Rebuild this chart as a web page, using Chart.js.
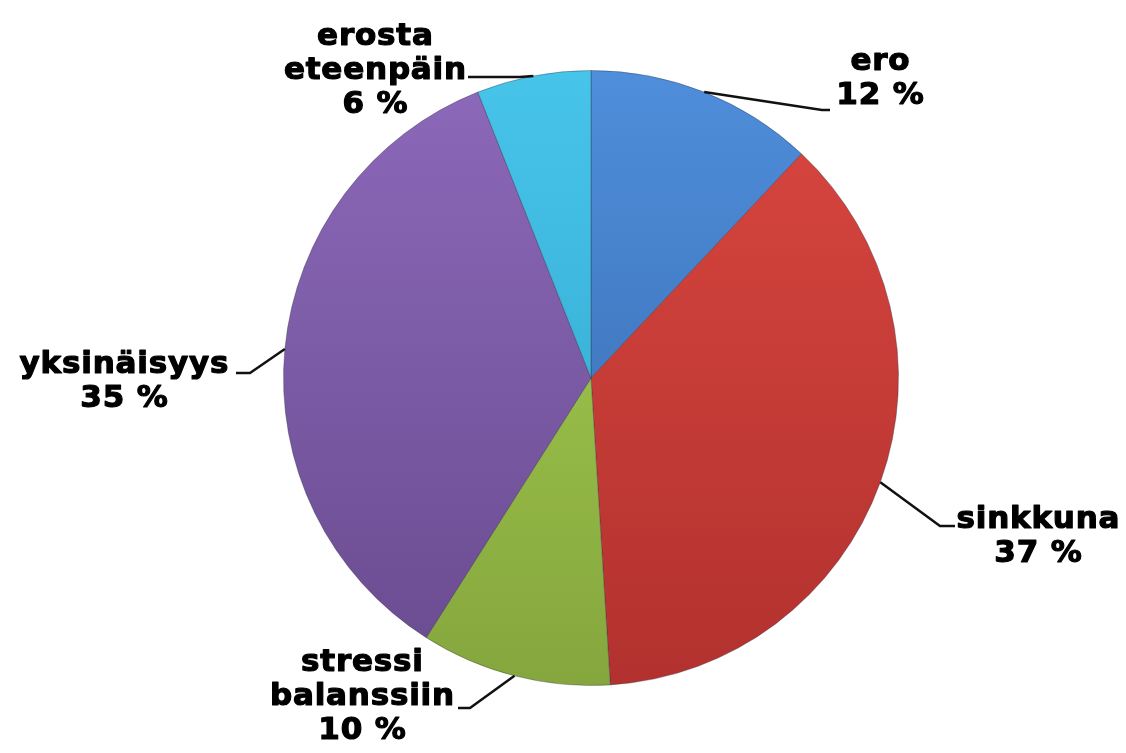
<!DOCTYPE html>
<html>
<head>
<meta charset="utf-8">
<script src="https://cdn.jsdelivr.net/npm/chart.js@4"></script>
<style>
html,body{margin:0;padding:0;background:#fff;}
#wrap{width:1126px;height:753px;position:relative;}
</style>
</head>
<body>
<div id="wrap"><canvas id="c" width="1126" height="753"></canvas></div>
<script>
const categories = ["ero", "sinkkuna", "stressi balanssiin", "yksinäisyys", "erosta eteenpäin"];
const labelLines = [["ero"], ["sinkkuna"], ["stressi", "balanssiin"], ["yksinäisyys"], ["erosta", "eteenpäin"]];
const values = [12, 37, 10, 35, 6];
const percentLabels = ["12 %", "37 %", "10 %", "35 %", "6 %"];

const colorTop = ["#4f8edb", "#da4740", "#a9d254", "#8c69ba", "#47c4ea"];
const colorBottom = ["#3566aa", "#b2312e", "#85a63d", "#694b8f", "#2fa3c9"];

// label layout: text centre x, first line y, elbow point, line end
const labelLayout = [
  {tx: 880, ty: 62, elbow: [822, 110], end: [830, 110]},
  {tx: 1038, ty: 520, elbow: [940, 526], end: [955, 526]},
  {tx: 362, ty: 663, elbow: [470, 708], end: [458, 708]},
  {tx: 124, ty: 365, elbow: [250, 373], end: [236, 373]},
  {tx: 375, ty: 37, elbow: [520, 77], end: [468, 77]}
];

const labelPlugin = {
  id: 'labelPlugin',
  afterDatasetsDraw(chart) {
    const ctx = chart.ctx;
    const meta = chart.getDatasetMeta(0);
    ctx.save();
    meta.data.forEach((arc, i) => {
      const p = arc.getProps(['x','y','startAngle','endAngle','outerRadius'], true);
      const mid = (p.startAngle + p.endAngle) / 2;
      const sx = p.x + Math.cos(mid) * p.outerRadius;
      const sy = p.y + Math.sin(mid) * p.outerRadius;
      const L = labelLayout[i];
      ctx.strokeStyle = '#111';
      ctx.lineWidth = 2.5;
      ctx.beginPath();
      ctx.moveTo(sx, sy);
      ctx.lineTo(L.elbow[0], L.elbow[1]);
      ctx.lineTo(L.end[0], L.end[1]);
      ctx.stroke();
      const lines = labelLines[i].concat([percentLabels[i]]);
      ctx.font = 'bold 31px "DejaVu Sans", Verdana, sans-serif';
      ctx.letterSpacing = '0.8px';
      ctx.textAlign = 'center';
      ctx.textBaseline = 'middle';
      lines.forEach((t, k) => {
        const y = L.ty + k * 34;
        const x = L.tx + 0.4;
        ctx.lineWidth = 4;
        ctx.strokeStyle = '#fff';
        ctx.lineJoin = 'round';
        ctx.strokeText(t, x, y);
        ctx.fillStyle = '#000';
        ctx.fillText(t, x, y);
        ctx.lineWidth = 1.2;
        ctx.strokeStyle = '#000';
        ctx.strokeText(t, x, y);
      });
    });
    ctx.restore();
  }
};

new Chart(document.getElementById('c'), {
  type: 'pie',
  data: {
    labels: categories,
    datasets: [{
      data: values,
      backgroundColor: (context) => {
        const chart = context.chart;
        const area = chart.chartArea;
        if (!area) return colorTop[context.dataIndex];
        const g = chart.ctx.createLinearGradient(0, area.top, 0, area.bottom);
        g.addColorStop(0, colorTop[context.dataIndex]);
        g.addColorStop(1, colorBottom[context.dataIndex]);
        return g;
      },
      borderColor: 'rgba(40,40,60,0.35)',
      borderWidth: 1
    }]
  },
  options: {
    responsive: false,
    animation: false,
    layout: {padding: {left: 283, right: 227, top: 70, bottom: 67}},
    plugins: {
      legend: {display: false},
      tooltip: {enabled: false}
    }
  },
  plugins: [labelPlugin]
});
</script>
</body>
</html>
